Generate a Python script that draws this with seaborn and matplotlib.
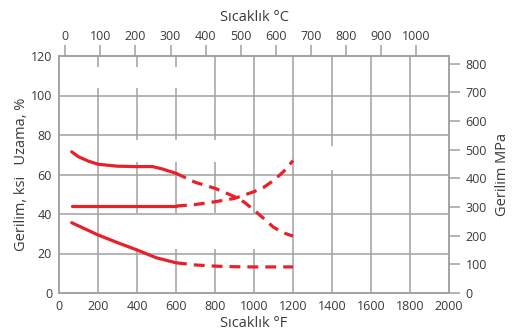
import numpy as np
import pandas as pd
import seaborn as sns
import matplotlib.pyplot as plt

# data (x in deg F, y in ksi / %)
t1_solid = [65, 100, 150, 200, 300, 400, 480, 530, 600]
c1_solid = [71.5, 69.0, 66.8, 65.2, 64.2, 64.0, 64.0, 62.8, 60.6]
t1_dash = [600, 700, 800, 900, 950, 1000, 1050, 1100, 1150, 1200]
c1_dash = [60.6, 56.0, 53.0, 48.8, 46.0, 42.0, 37.7, 33.3, 30.5, 28.8]

t2_solid = [65, 200, 400, 600]
c2_solid = [44.0, 44.0, 44.0, 44.0]
t2_dash = [600, 700, 800, 900, 1000, 1050, 1100, 1150, 1200]
c2_dash = [44.0, 44.8, 46.2, 47.9, 51.3, 53.5, 57.0, 61.3, 67.0]

t3_solid = [65, 200, 300, 400, 500, 600]
c3_solid = [35.6, 29.4, 25.5, 21.8, 17.8, 15.3]
t3_dash = [600, 700, 800, 900, 1000, 1200]
c3_dash = [15.3, 14.2, 13.6, 13.3, 13.2, 13.2]

f_ticks = list(range(0, 2001, 200))
ksi_ticks = list(range(0, 121, 20))
mpa_ticks = list(range(0, 801, 100))
c_ticks = list(range(0, 1001, 100))

sns.set_style("white")
plt.rcParams['font.family'] = ['Open Sans', 'DejaVu Sans']
txt = '#3a3a3a'
grid_c = '#a0a0a0'
red = '#e8202a'

fig = plt.figure(figsize=(5.15, 3.3), dpi=100)
ax = fig.add_axes([59 / 515, 37 / 330, 390 / 515, 237 / 330])

# grid: vertical lines in the original are broken in a few places
gaps = {200: [(104, 114.4)],
        400: [(22.3, 40.5), (66.3, 77.4), (104, 114.4)],
        600: [(22.3, 40.5), (66.3, 77.4), (104, 114.4)],
        800: [(22.3, 40.5), (66.3, 77.4)],
        1000: [(22.3, 40.5)],
        1400: [(62.2, 74.4)]}
for x in f_ticks[1:-1]:
    lo = 0
    for a, b in sorted(gaps.get(x, [])):
        ax.vlines(x, lo, a, color=grid_c, lw=1.1, zorder=1)
        lo = b
    ax.vlines(x, lo, 120, color=grid_c, lw=1.1, zorder=1)
for y in ksi_ticks[1:-1]:
    ax.axhline(y, color=grid_c, lw=1.1, zorder=1)

curves = [(t1_solid, c1_solid, '-'), (t1_dash, c1_dash, '--'),
          (t2_solid, c2_solid, '-'), (t2_dash, c2_dash, '--'),
          (t3_solid, c3_solid, '-'), (t3_dash, c3_dash, '--')]
for t, c, ls in curves:
    sns.lineplot(x=t, y=c, ax=ax, color=red, lw=2.3, linestyle=ls, zorder=3)
for l in ax.get_lines():
    if l.get_linestyle() == '--':
        l.set_dashes((3.4, 2.2))

ax.set_xlim(0, 2000)
ax.set_ylim(0, 120)
ax.set_xticks(f_ticks)
ax.set_yticks(ksi_ticks)
ax.tick_params(axis='both', length=0, labelsize=9, colors=txt, pad=5)
ax.set_xlabel('Sıcaklık °F', fontsize=10.5, color=txt, labelpad=2)
ax.set_ylabel('Gerilim, ksi   Uzama, %', fontsize=10.5, color=txt, labelpad=1)
for s in ax.spines.values():
    s.set_color(grid_c)
    s.set_linewidth(1.1)

ax2 = ax.twinx()
ax2.set_ylim(0, 120 * 6.894757)
ax2.set_yticks(mpa_ticks)
ax2.tick_params(axis='y', direction='out', length=8, width=1.1, color=grid_c,
                labelsize=9, labelcolor=txt, pad=4)
ax2.set_ylabel('Gerilim MPa', fontsize=10.5, color=txt, labelpad=6)
for s in ax2.spines.values():
    s.set_color(grid_c)
    s.set_linewidth(1.1)

top = ax.secondary_xaxis('top', functions=(lambda f: (f - 32) * 5 / 9,
                                           lambda c: c * 9 / 5 + 32))
top.set_xticks(c_ticks)
top.tick_params(direction='out', length=8, width=1.1, color=grid_c,
                labelsize=9, labelcolor=txt, pad=1)
top.spines['top'].set_visible(False)
top.set_xlabel('Sıcaklık °C', fontsize=10.5, color=txt, labelpad=7)

fig.savefig('out.png', dpi=100)
